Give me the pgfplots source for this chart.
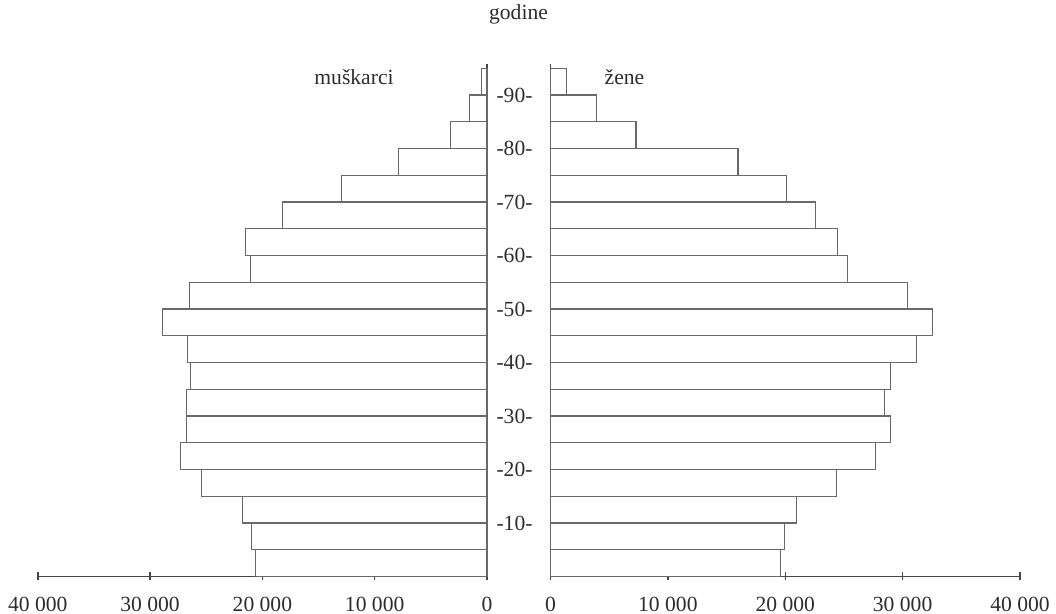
\documentclass[border=0pt]{standalone}
\usepackage{pgfplots}
\pgfplotsset{compat=1.18}
\usepackage{pgfplotstable}
\usepackage{fontspec}
\setmainfont{Liberation Serif}
\definecolor{txt}{RGB}{45,45,45}
\definecolor{barline}{RGB}{105,105,105}
\definecolor{axline}{RGB}{70,70,70}

\pgfplotstableread{
age men women
2.5 20600 19600
7.5 21000 19960
12.5 21750 20930
17.5 25400 24370
22.5 27270 27690
27.5 26760 28970
32.5 26760 28480
37.5 26370 28930
42.5 26670 31180
47.5 28900 32570
52.5 26460 30390
57.5 21060 25280
62.5 21510 24420
67.5 18230 22580
72.5 12950 20140
77.5 7850 15970
82.5 3220 7280
87.5 1580 3940
92.5 480 1370
}\pyr

\pgfplotsset{
  pyr/.style={
    scale only axis, height=256pt, ymin=0, ymax=95.7,
    anchor=south west,
    font=\fontsize{10.8}{13}\selectfont, text=txt,
    axis line style={axline, line width=0.8pt},
    tick style={axline, line width=0.7pt},
    tick align=center, major tick length=4pt,
    xticklabel style={text=txt, inner sep=1pt, yshift=-7pt},
    clip=false,
  },
  pyrbar/.style={xbar, bar width=5, bar shift=0pt, draw=barline, fill=white, line width=0.55pt},
}

\begin{document}
\begin{tikzpicture}[font=\fontsize{10.8}{13}\selectfont]
\useasboundingbox (0,0) rectangle (528pt,307pt);
% men (left)
\begin{axis}[pyr, width=224.6pt, at={(18.9pt,18.75pt)},
  xmin=-40000, xmax=0,
  axis x line*=bottom, axis y line*=right,
  xtick={-40000,-30000,-20000,-10000,0},
  xticklabels={40 000,30 000,20 000,10 000,0},
  ytick=\empty]
\addplot[pyrbar] table[x expr=-\thisrow{men}, y=age] {\pyr};
\end{axis}
% women (right)
\begin{axis}[pyr, width=234.75pt, at={(275.25pt,18.75pt)},
  xmin=0, xmax=40000,
  axis x line*=bottom, axis y line*=left,
  xtick={0,10000,20000,30000,40000},
  xticklabels={0,10 000,20 000,30 000,40 000},
  ytick={10,20,30,40,50,60,70,80,90},
  yticklabels={-10-,-20-,-30-,-40-,-50-,-60-,-70-,-80-,-90-},
  ytick style={draw=none},
  yticklabel style={anchor=center, xshift=-16pt, text=txt}]
\addplot[pyrbar] table[x=women, y=age] {\pyr};
\end{axis}
\node[anchor=base, text=txt] at (259.25pt,297pt) {godine};
\node[anchor=base, text=txt] at (177pt,264.5pt) {muškarci};
\node[anchor=base, text=txt] at (312.25pt,264.5pt) {žene};
\end{tikzpicture}
\end{document}
